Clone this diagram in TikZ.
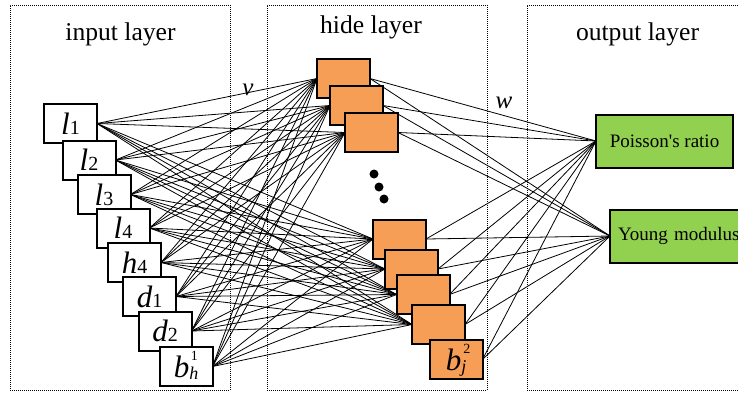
\documentclass[tikz,border=0pt]{standalone}
\usepackage{fontspec}
\setmainfont{Liberation Serif}
\newfontfamily\plainserif{Liberation Serif}
\pgfdeclarelayer{lines}
\pgfsetlayers{lines,main}
\newcommand{\bigit}[1]{{\fontsize{31}{31}\selectfont\itshape #1}}
\newcommand{\smallnum}[1]{{\fontsize{20}{20}\selectfont #1}}
\newcommand{\supnum}[2]{\rlap{\hspace{#1}\smash{\raisebox{17pt}{\fontsize{14}{14}\selectfont #2}}}}
\newcommand{\subit}[1]{\smash{\raisebox{-2pt}{\fontsize{18}{18}\selectfont\itshape #1}}}
\tikzset{
  frame/.style={draw=black,line width=1pt,dash pattern=on 1pt off 1pt,inner sep=0pt},
  inbox/.style={draw=black,fill=white,line width=2pt,minimum width=53pt,minimum height=39pt,inner sep=0pt,outer sep=0pt,xshift=-0.5pt,yshift=0.5pt},
  hidbox/.style={draw=black,fill=hidcol,line width=2pt,minimum width=53pt,minimum height=39pt,inner sep=0pt,outer sep=0pt,xshift=-0.5pt,yshift=0.5pt},
  outbox/.style={draw=black,fill=outcol,line width=2pt,minimum height=53pt,inner sep=0pt,outer sep=0pt,font=\plainserif\fontsize{19}{19}\selectfont},
  title/.style={inner sep=0pt,anchor=base,font=\fontsize{25.6}{25.6}\selectfont},
  weight/.style={inner sep=0pt,anchor=base,font=\fontsize{25}{25}\selectfont\itshape},
  dotmark/.style={circle,fill=black,minimum size=9pt,inner sep=0pt},
  link/.style={draw=black,line width=0.8pt}
}
\definecolor{hidcol}{HTML}{F69D56}
\definecolor{outcol}{HTML}{92D14F}
\begin{document}
\begin{tikzpicture}[x=1pt,y=-1pt]
\useasboundingbox (0,0) rectangle (738,394);
% frames
\node[frame,minimum width=220pt,minimum height=385pt] (f1) at (120,197.5) {};
\node[frame,minimum width=220pt,minimum height=385pt] (f2) at (377,197.5) {};
\node[frame,minimum width=260pt,minimum height=385pt] (f3) at (657,197.5) {};
% titles
\node[title] (t1) at (120.5,40) {input layer};
\node[title] (t2) at (371,33) {hide layer};
\node[title] (t3) at (637.5,40) {output layer};
\node[weight] (v) at (248,95) {v};
\node[weight] (w) at (504,108) {w};
% input
\node[inbox] (i1) at (71,124) {\bigit{l}\smallnum{1}};
\node[inbox] (i2) at (89.5,160.5) {\bigit{l}\smallnum{2}};
\node[inbox] (i3) at (104.5,195) {\bigit{l}\smallnum{3}};
\node[inbox] (i4) at (123.5,228.5) {\bigit{l}\smallnum{4}};
\node[inbox] (i5) at (135,263) {\bigit{h}\smallnum{4}};
\node[inbox] (i6) at (150,297) {\bigit{d}\smallnum{1}};
\node[inbox] (i7) at (165.5,331.5) {\bigit{d}\smallnum{2}};
\node[inbox] (i8) at (186.5,367) {\bigit{b}\supnum{1.5pt}{1}\subit{h}};
% hidden
\node[hidbox] (h1) at (344,79) {};
\node[hidbox] (h2) at (357,106) {};
\node[hidbox] (h3) at (372,133) {};
\node[dotmark] (d1) at (374,174) {};
\node[dotmark] (d2) at (379,187) {};
\node[dotmark] (d3) at (384,199) {};
\node[hidbox] (h4) at (400,239.5) {};
\node[hidbox] (h5) at (412,269.5) {};
\node[hidbox] (h6) at (423.5,295) {};
\node[hidbox] (h7) at (439,325) {};
\node[hidbox] (h8) at (456.5,360) {\bigit{b}\supnum{2pt}{2}\subit{j}};
% output
\node[outbox,minimum width=137pt] (o1) at (664.5,141) {Poisson's ratio};
\node[outbox,minimum width=140pt,anchor=west,text width=140pt,align=left] (o2) at (610,236) {\hspace*{8pt}Young modulus};
% links
\begin{pgfonlayer}{lines}
\foreach \a in {1,...,8}{
  \foreach \b in {1,...,7}{
    \draw[link] (i\a.east) -- (h\b.west);
  }
}
\foreach \b in {1,...,8}{
  \draw[link] (h\b.east) -- (o1.west);
  \draw[link] (h\b.east) -- (o2.west);
}
\end{pgfonlayer}
\end{tikzpicture}
\end{document}
